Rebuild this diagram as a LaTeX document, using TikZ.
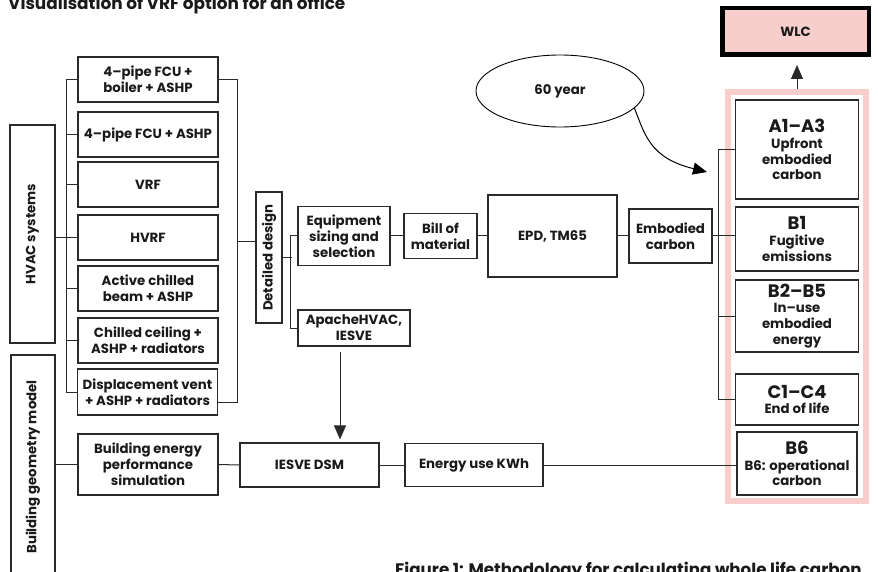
\documentclass[tikz,border=0pt]{standalone}
\usepackage{fontspec}
\setmainfont{Poppins}
\usetikzlibrary{shapes.geometric,arrows.meta}
\definecolor{linec}{HTML}{2A2A2A}
\definecolor{pinkc}{HTML}{F8CECC}
\definecolor{txtc}{HTML}{1A1A1A}
\newcommand\bxfont{\fontsize{13.3}{15.8}\selectfont\bfseries}
\newcommand\hdfont{\fontsize{18}{18.5}\selectfont\bfseries}
\tikzset{
  box/.style={draw=linec, line width=1.1pt, align=center, inner sep=0pt, text=txtc, font=\bxfont},
  sysbox/.style={box, minimum width=140pt, minimum height=45pt},
  stagebox/.style={box, minimum width=123pt},
  conn/.style={draw=linec, line width=1pt},
  arr/.style={conn, -{Triangle[length=14pt,width=12pt]}},
}
\begin{document}
\begin{tikzpicture}[x=1pt,y=-1pt]
\useasboundingbox (0,0) rectangle (878,572);
\clip (0,0) rectangle (878,572);
% titles
\node[anchor=base west, inner sep=0pt, text=txtc, font=\fontsize{16.9}{18}\selectfont\bfseries] (title) at (8,9.5) {Visualisation of VRF option for an office};
\node[anchor=base west, inner sep=0pt, text=txtc, font=\fontsize{16.7}{18}\selectfont\bfseries] (caption) at (395,575) {Figure 1: Methodology for calculating whole life carbon};
% left column
\node[box, rotate=90, minimum width=218pt, minimum height=45pt] (hvac) at (32.5,234) {HVAC systems};
\node[box, rotate=90, minimum width=224pt, minimum height=44pt] (bgm) at (33,467) {Building geometry model};
% systems
\node[sysbox] (s1) at (148,79.5) {4–pipe FCU +\\boiler + ASHP};
\node[sysbox] (s2) at (148,134.5) {4–pipe FCU + ASHP};
\node[sysbox] (s3) at (148,184.5) {VRF};
\node[sysbox] (s4) at (148,237.5) {HVRF};
\node[sysbox] (s5) at (148,288.5) {Active chilled\\beam + ASHP};
\node[sysbox] (s6) at (148,340.5) {Chilled ceiling +\\ASHP + radiators};
\node[sysbox, minimum height=46pt] (s7) at (147.5,392) {Displacement vent\\+ ASHP + radiators};
% design chain
\node[box, rotate=90, minimum width=131pt, minimum height=26pt] (dd) at (269,257.5) {Detailed design};
\node[box, minimum width=92pt, minimum height=59pt] (eq) at (344,236) {Equipment\\sizing and\\selection};
\node[box, minimum width=112pt, minimum height=36pt] (ap) at (354,328) {ApacheHVAC,\\IESVE};
\node[box, minimum width=73pt, minimum height=45pt] (bill) at (440.5,236) {Bill of\\material};
\node[box, minimum width=129pt, minimum height=82pt] (epd) at (552.5,236) {EPD, TM65};
\node[box, minimum width=83pt, minimum height=54pt] (emb) at (670.5,236) {Embodied\\carbon};
% frame and stages
\node[draw=pinkc, line width=5.5pt, minimum width=138pt, minimum height=409pt, inner sep=0pt] (frame) at (797,296.5) {};
\node[stagebox, minimum height=99pt] (a1) at (797,149.5) {{\hdfont A1–A3}\\Upfront\\embodied\\carbon};
\node[stagebox, minimum height=64pt] (b1) at (797,239) {{\hdfont B1}\\Fugitive\\emissions};
\node[stagebox, minimum height=72pt] (b2) at (797,316) {{\hdfont B2–B5}\\In–use\\embodied\\energy};
\node[stagebox, minimum height=51pt] (c1) at (797,399.5) {{\hdfont C1–C4}\\End of life};
\node[box, minimum width=120pt, minimum height=63pt] (b6) at (797,463.5) {{\hdfont B6}\\B6: operational\\carbon};
\node[box, draw=black, line width=4.5pt, fill=pinkc, minimum width=146.5pt, minimum height=46.5pt] (wlc) at (795.5,31.5) {WLC};
\node[box, draw=black, line width=0.9pt, ellipse, minimum width=168pt, minimum height=72pt] (el) at (560,91) {60 year};
% bottom row
\node[box, minimum width=140pt, minimum height=61pt] (bep) at (148,464.5) {Building energy\\performance\\simulation};
\node[box, minimum width=139pt, minimum height=44pt] (dsm) at (309.5,465) {IESVE DSM};
\node[box, minimum width=138pt, minimum height=43pt] (en) at (474,465) {Energy use KWh};
% connectors: systems
\draw[conn] (s1.west) -- ++(-11,0) |- (s7.west);
\foreach \n in {s2,s3,s4,s5,s6} { \draw[conn] (\n.west) -- ++(-11,0); }
\draw[conn] (hvac.south |- s4.west) -- (s4.west);
\coordinate (rb) at (237,0);
\coordinate (s7r) at ([yshift=-10pt]s7.east);
\draw[conn] (s1.east) -| (rb |- s7r) -- (s7r);
\coordinate (ddin) at (256,241);
\draw[conn] (rb |- ddin) -- (ddin);
\draw[conn] (dd.south) -- ++(9,0);
\draw[conn] (eq.west) -- ++(-7,0) |- (ap.west);
\draw[conn] (eq.east) -- (bill.west);
\draw[conn] (bill.east) -- (epd.west);
\draw[conn] (epd.east) -- (emb.west);
\coordinate (bl) at (718,0);
\draw[conn] (a1.west) -- (bl |- a1.west) |- (c1.west);
\draw[conn] (emb.east) -- (b1.west |- emb.east);
\draw[conn] (bl |- b2.west) -- (b2.west);
\draw[arr, shorten >=8pt] (frame.north) -- (frame.north |- wlc.south);
\coordinate (c60) at (707,172);
\draw[arr, draw=black] (el.-13) .. controls (645,135) and (650,158) .. (c60);
\coordinate (apx) at (340,352);
\draw[arr, shorten >=3pt] (apx) -- (apx |- dsm.north);
% bottom connectors
\draw[conn] (bgm.south |- bep.west) -- (bep.west);
\draw[conn] (bep.east) -- (dsm.west);
\draw[conn] (dsm.east) -- (en.west);
\draw[conn] (en.east) -- (b6.west |- en.east);
\end{tikzpicture}
\end{document}
